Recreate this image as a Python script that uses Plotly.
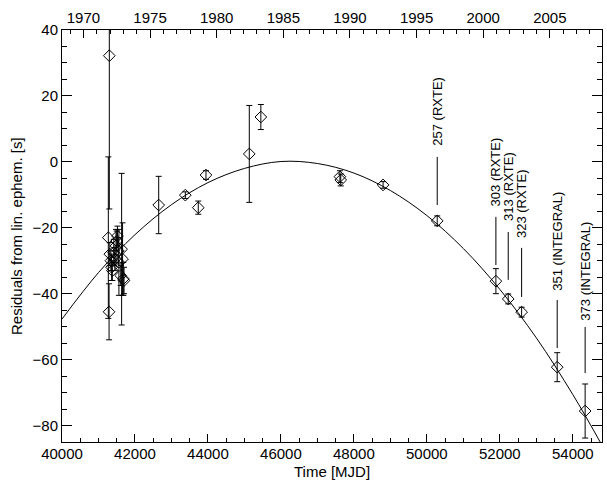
import plotly.graph_objects as go

# ---- data ----
mjd = [41270, 41290, 41297, 41310, 41340, 41360, 41380, 41420, 41450, 41480,
       41500, 41520, 41540, 41560, 41610, 41634, 41660, 41680, 41700,
       42650, 43380, 43735, 43946, 45133, 45450, 47617, 47640, 48800,
       50284, 51892, 52230, 52597, 53572, 54338]
resid = [-23.0, -45.5, 32.2, -28.0, -30.0, -32.0, -33.0, -27.5, -29.5, -25.5,
         -24.0, -22.5, -27.0, -30.5, -34.5, -26.5, -29.5, -35.5, -36.0,
         -13.1, -10.1, -13.9, -4.0, 2.4, 13.6, -4.5, -5.5, -7.0,
         -17.9, -36.2, -41.6, -45.6, -62.3, -75.6]
err = [24.5, 8.5, 46.5, 3.5, 3.0, 4.0, 3.0, 4.0, 3.5, 5.0,
       3.0, 3.0, 4.0, 10.0, 3.0, 23.0, 11.0, 5.0, 4.0,
       8.7, 1.0, 2.0, 1.3, 14.7, 3.8, 1.8, 1.8, 1.0,
       1.5, 3.8, 1.5, 1.5, 4.4, 8.2]

# fitted curve
fit_mjd = [40000, 41000, 42000, 43000, 44000, 45000, 46000, 47000, 48000,
           49000, 50000, 51000, 52000, 53000, 54000, 54800]
fit_res = [-47.7, -33.6, -22.1, -13.0, -6.3, -2.0, 0.1, -0.5, -3.4,
           -8.7, -16.3, -26.3, -38.7, -53.4, -70.6, -86.0]

# labelled observations
lab_text = ["257 (RXTE)", "303 (RXTE)", "313 (RXTE)", "323 (RXTE)",
            "351 (INTEGRAL)", "373 (INTEGRAL)"]
lab_mjd = [50284, 51892, 52230, 52597, 53572, 54338]
lab_text_y = [4.2, -14.0, -18.6, -23.7, -39.8, -48.9]
lab_line_top = [1.5, -16.7, -21.3, -26.1, -41.9, -50.1]
lab_line_bot = [-13.1, -31.3, -35.8, -41.0, -56.5, -64.1]

# top axis years
year_ticks = [1970, 1975, 1980, 1985, 1990, 1995, 2000, 2005]

X_RANGE = [40000, 54800]
Y_RANGE = [-85, 40]
MJD_1970 = 40587
yr_range = [1970 + (X_RANGE[0] - MJD_1970) / 365.25,
            1970 + (X_RANGE[1] - MJD_1970) / 365.25]

FONT = "Liberation Sans, Arial, Helvetica, sans-serif"
ML, MR, MT, MB = 62, 5, 30, 38
W, H = 607, 480
PW, PH = W - ML - MR, H - MT - MB

fig = go.Figure()

fig.add_trace(go.Scatter(
    x=fit_mjd, y=fit_res, mode="lines", line=dict(color="black", width=1, shape="spline"),
    hoverinfo="skip", showlegend=False))

fig.add_trace(go.Scatter(
    x=mjd, y=resid, mode="markers",
    marker=dict(symbol="diamond-open", size=9, color="black", line=dict(width=1, color="black")),
    error_y=dict(type="data", array=err, color="black", thickness=1, width=3),
    showlegend=False))

# invisible trace for top axis
fig.add_trace(go.Scatter(x=yr_range, y=[0, 0], xaxis="x2", mode="markers",
                         marker=dict(opacity=0), hoverinfo="skip", showlegend=False))

for t, xm, ty, y0, y1 in zip(lab_text, lab_mjd, lab_text_y, lab_line_top, lab_line_bot):
    fig.add_shape(type="line", x0=xm, x1=xm, y0=y0, y1=y1, xref="x", yref="y",
                  line=dict(color="black", width=1))
    fig.add_annotation(x=xm, y=ty, xref="x", yref="y", text=t, textangle=-90,
                       showarrow=False, xanchor="center", yanchor="bottom",
                       font=dict(family=FONT, size=13, color="black"))

# axis titles
fig.add_annotation(text="Time [MJD]", xref="paper", yref="paper",
                   x=0.5, y=-(471 - (H - MB)) / PH, xanchor="center", yanchor="middle",
                   showarrow=False, font=dict(family=FONT, size=15, color="black"))
fig.add_annotation(text="Residuals from lin. ephem. [s]", xref="paper", yref="paper",
                   x=-(ML - 16) / PW, y=0.5, xanchor="center", yanchor="middle",
                   textangle=-90, showarrow=False,
                   font=dict(family=FONT, size=15, color="black"))

fig.update_layout(
    width=W, height=H,
    margin=dict(l=ML, r=MR, t=MT, b=MB),
    paper_bgcolor="white", plot_bgcolor="white",
    font=dict(family=FONT, size=15, color="black"),
    xaxis=dict(
        range=X_RANGE, tick0=40000, dtick=2000, tickformat="d", ticks="inside", ticklen=8,
        tickcolor="black", showline=True, linecolor="black", linewidth=1,
        showgrid=False, zeroline=False, automargin=False, ticklabelstandoff=-2,
        minor=dict(dtick=500, ticks="inside", ticklen=4, tickcolor="black"),
        tickfont=dict(size=15),
    ),
    xaxis2=dict(
        range=yr_range, overlaying="x", side="top",
        tickvals=year_ticks, tickformat="d",
        ticks="inside", ticklen=8, tickcolor="black", showline=True,
        linecolor="black", linewidth=1, showgrid=False, zeroline=False,
        automargin=False,
        minor=dict(dtick=1, tick0=1970, ticks="inside", ticklen=4, tickcolor="black"),
        tickfont=dict(size=15),
    ),
    yaxis=dict(
        range=Y_RANGE, tick0=0, dtick=20, ticks="inside", ticklen=10,
        tickcolor="black", showline=True, linecolor="black", linewidth=1,
        mirror="ticks", showgrid=False, zeroline=False, automargin=False,
        minor=dict(dtick=5, ticks="inside", ticklen=5, tickcolor="black"),
        tickfont=dict(size=15),
    ),
)

fig.write_html("out.html", config={"displayModeBar": False},
               post_script="document.body.style.margin='0';document.body.style.padding='0';")
